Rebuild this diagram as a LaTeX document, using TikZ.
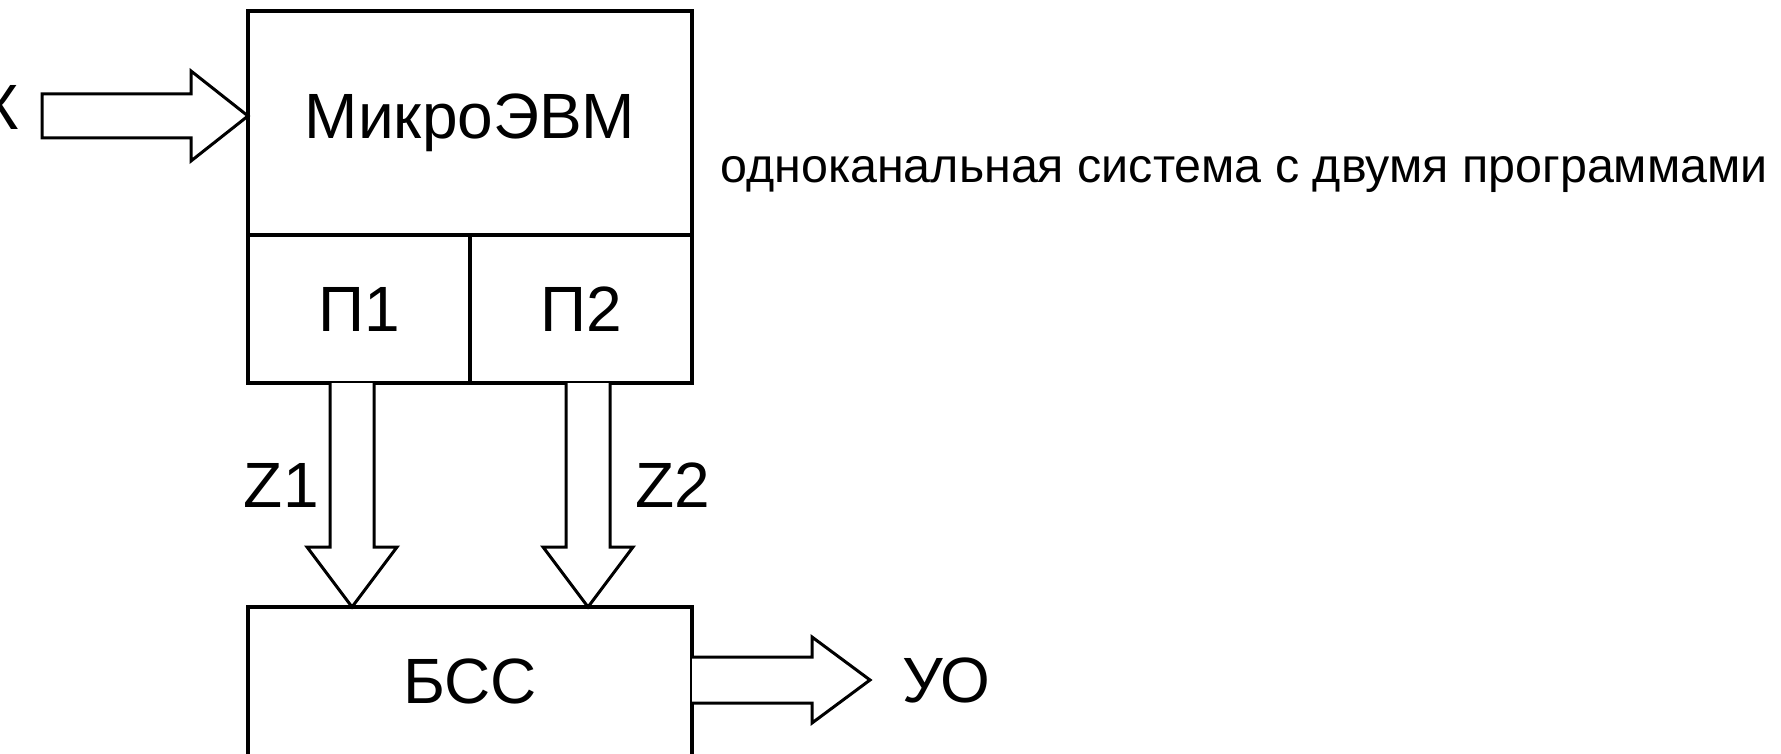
\documentclass[tikz,border=0pt]{standalone}
\usepackage{fontspec}
\setmainfont{Liberation Sans}
\usetikzlibrary{positioning, calc}
\tikzset{
  lbl/.style={inner sep=0pt, font=\fontsize{32}{38}\selectfont},
  cellnode/.style={draw, line width=1.8pt, outer sep=0pt, inner sep=0pt, font=\fontsize{32}{38}\selectfont},
  boxframe/.style={draw, line width=2.2pt},
  blkbox/.style={cellnode, line width=2.2pt, minimum width=222pt},
  barrow/.style={draw, line width=1.5pt, fill=white},
}

\begin{document}
\begin{tikzpicture}[x=0.5pt, y=-0.5pt]
  \useasboundingbox (0,0) rectangle (1781,754);
  % processor with its two programs
  \node[cellnode, minimum width=222pt, minimum height=112pt] (evm) at (470,123) {МикроЭВМ};
  \node[cellnode, minimum width=111pt, minimum height=74pt, below right=0pt and 0pt of evm.south west] (p1) {П1};
  \node[cellnode, minimum width=111pt, minimum height=74pt, right=0pt of p1] (p2) {П2};
  \draw[boxframe] (evm.north west) rectangle (p2.south east);
  \node[blkbox, minimum height=85pt, below=112pt of p1.south east] (bss) {};
  \node[lbl] at ($(bss.north)+(0,74)$) {БСС};
  \node[lbl, font=\fontsize{24.2}{29}\selectfont, anchor=base west] (title) at (720,183) {одноканальная система с двумя программами};
  % input
  \node[lbl, anchor=base east] (k) at (19,130) {К};
  \coordinate (kin) at ($(k.east)+(23,8)$);
  \coordinate (intip) at (evm.west |- kin);
  \draw[barrow] ($(kin)+(0,-22)$) -- ($(intip)+(-57,-22)$) -- ($(intip)+(-57,-45)$) -- (intip)
    -- ($(intip)+(-57,45)$) -- ($(intip)+(-57,22)$) -- ($(kin)+(0,22)$) -- cycle;
  % program outputs Z1, Z2
  \foreach \c/\dx in {p1/-7, p2/7} {
    \coordinate (top) at ($(\c.south)+(\dx,0)$);
    \coordinate (tip) at (top |- bss.north);
    \draw[barrow] ($(top)+(-22,0)$) -- ($(tip)+(-22,-60)$) -- ($(tip)+(-45,-60)$) -- (tip)
      -- ($(tip)+(45,-60)$) -- ($(tip)+(22,-60)$) -- ($(top)+(22,0)$);
  }
  \node[lbl, anchor=east] (z1) at ($(p1.south)+(-40,102)$) {Z1};
  \node[lbl, anchor=west] (z2) at ($(p2.south)+(54,102)$) {Z2};
  % output
  \coordinate (uotip) at (870,680);
  \node[lbl, anchor=west] (uo) at ($(uotip)+(32,0)$) {УО};
  \draw[barrow] ($(bss.east |- uotip)+(0,-23)$) -- ($(uotip)+(-58,-23)$) -- ($(uotip)+(-58,-43)$) -- (uotip)
    -- ($(uotip)+(-58,43)$) -- ($(uotip)+(-58,23)$) -- ($(bss.east |- uotip)+(0,23)$);
\end{tikzpicture}
\end{document}
